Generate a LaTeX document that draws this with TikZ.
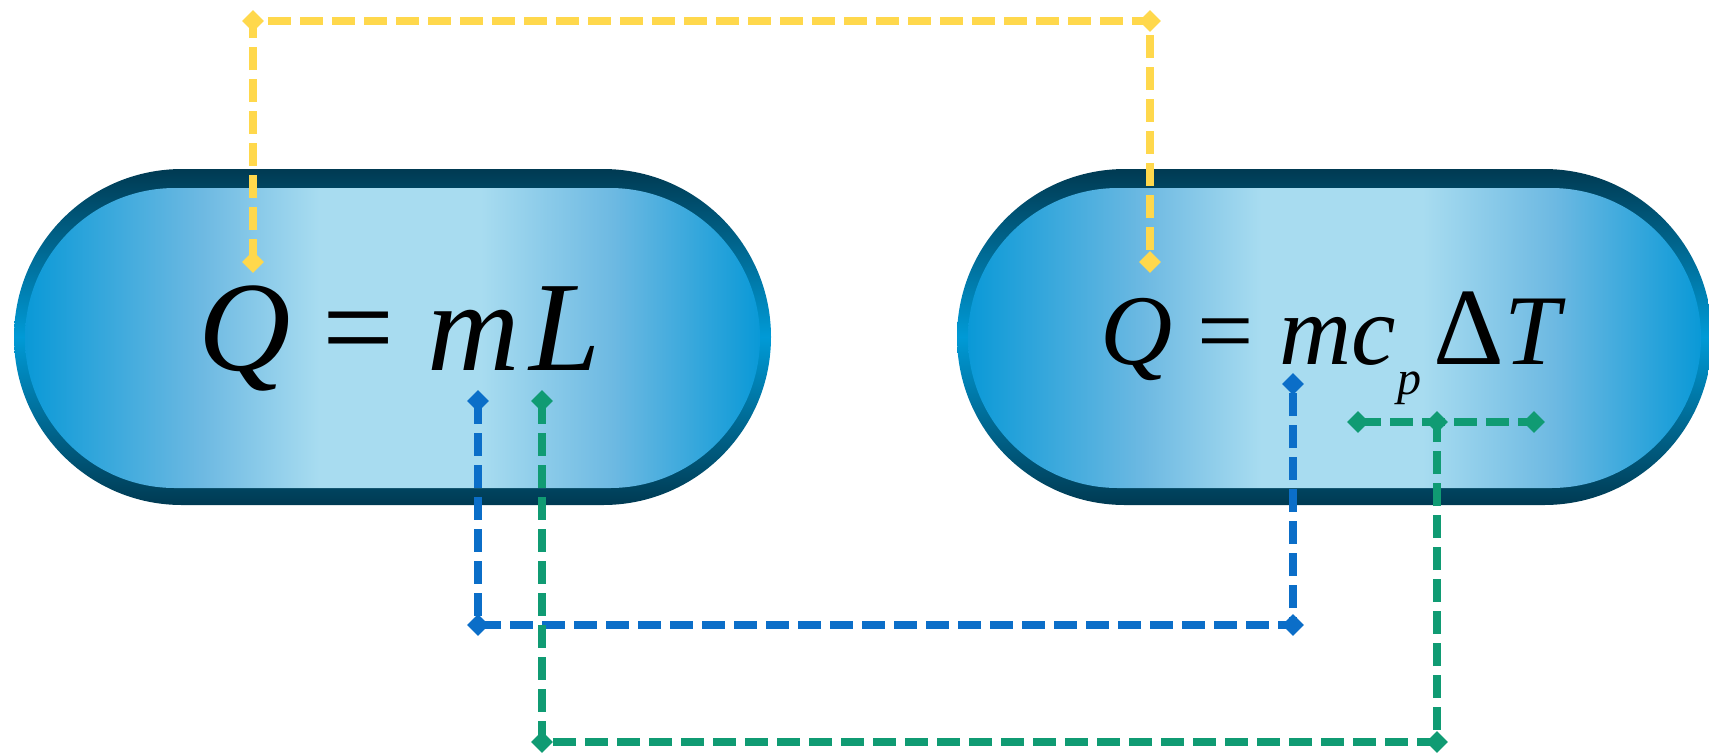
\documentclass[tikz,border=0pt]{standalone}
\usepackage{fontspec}
\setmainfont{Liberation Serif}
\usetikzlibrary{shapes.geometric}
\definecolor{rimdark}{HTML}{003A52}
\definecolor{rimbright}{HTML}{009AD6}
\definecolor{fillA}{HTML}{0A99D7}
\definecolor{fillB}{HTML}{6DB9E2}
\definecolor{fillC}{HTML}{A8DCF0}
\definecolor{cyel}{HTML}{FFD84C}
\definecolor{cblue}{HTML}{0B6EC8}
\definecolor{cgreen}{HTML}{109B73}
\pgfdeclarehorizontalshading{pillfill}{100bp}{color(0bp)=(fillA); color(25bp)=(fillA); color(37bp)=(fillB); color(45bp)=(fillC); color(56bp)=(fillC); color(65bp)=(fillB); color(75bp)=(fillA); color(100bp)=(fillA)}
\tikzset{
  rim/.style={top color=rimdark, bottom color=rimdark, middle color=rimbright, draw=none},
  pillin/.style={shading=pillfill, draw=none},
  link/.style={line width=4pt, dash pattern=on 11.5pt off 4.5pt},
  dmd/.style={diamond, minimum width=11pt, minimum height=11pt, inner sep=0pt, draw=none},
}
\begin{document}
\begin{tikzpicture}[x=0.5pt, y=-0.5pt]
\useasboundingbox (0,0) rectangle (1709,752);
\clip (0,0) rectangle (1709,752);
% left pill
\shade[rim, rounded corners=84pt] (14,169) rectangle (771,505);
\shade[pillin, rounded corners=75pt] (25,188) rectangle (760,488);
% right pill
\shade[rim, rounded corners=84pt] (957,169) rectangle (1712,505);
\shade[pillin, rounded corners=75pt] (968,188) rectangle (1701,488);
% equations
\node[anchor=base west, inner sep=0pt] (eqL) at (198,370)
  {\fontsize{64}{70}\selectfont\textit{Q} = \textit{m}\kern5pt\textit{L}};
\node[anchor=base west, inner sep=0pt] (eqR) at (1100,364)
  {\fontsize{50}{56}\selectfont\textit{Q} = \textit{mc}\kern1pt\raisebox{-15pt}{\fontsize{24}{26}\selectfont\textit{p}}\kern6pt{\fontsize{55}{60}\selectfont Δ}\textit{T}};
% connector points
\coordinate (y1) at (253,262);
\coordinate (y2) at (253,21);
\coordinate (y3) at (1150,21);
\coordinate (y4) at (1150,262);
\coordinate (b1) at (478,401);
\coordinate (b2) at (478,625);
\coordinate (b3) at (1293,625);
\coordinate (b4) at (1293,384);
\coordinate (g1) at (542,401);
\coordinate (g2) at (542,742);
\coordinate (g3) at (1437,742);
\coordinate (g4) at (1437,422);
\coordinate (g5) at (1358,422);
\coordinate (g6) at (1534,422);
% connectors
\draw[link, cyel] (y1) -- (y2) -- (y3) -- (y4);
\draw[link, cblue] (b1) -- (b2) -- (b3) -- (b4);
\draw[link, cgreen] (g1) -- (g2) -- (g3) -- (g4);
\draw[link, cgreen] (g5) -- (g6);
% markers
\foreach \p in {y1,y2,y3,y4} \node[dmd, fill=cyel] (d\p) at (\p) {};
\foreach \p in {b1,b2,b3,b4} \node[dmd, fill=cblue] (d\p) at (\p) {};
\foreach \p in {g1,g2,g3,g4,g5,g6} \node[dmd, fill=cgreen] (d\p) at (\p) {};
\end{tikzpicture}
\end{document}
